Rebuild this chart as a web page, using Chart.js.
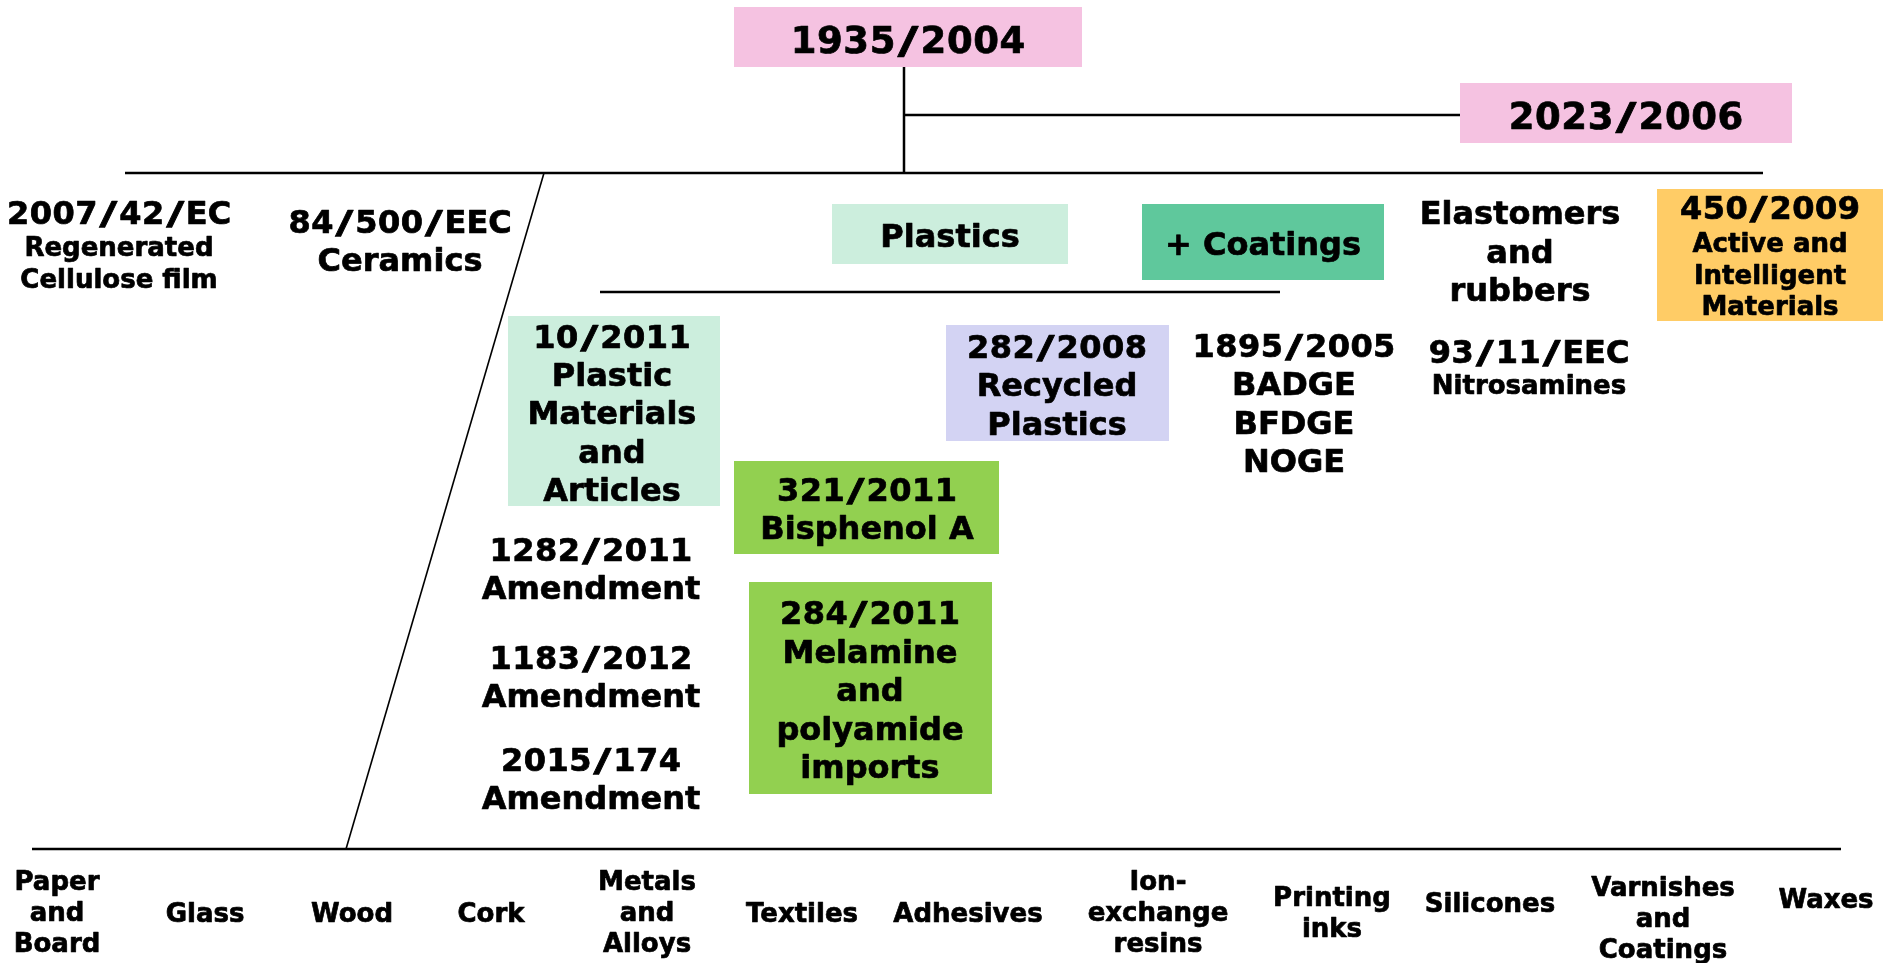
<!DOCTYPE html>
<html><head><meta charset="utf-8">
<script src="https://cdn.jsdelivr.net/npm/chart.js@4/dist/chart.umd.min.js"></script>
<style>html,body{margin:0;padding:0;background:#fff;overflow:hidden}#wrap{width:1883px;height:963px;position:relative}</style>
</head><body><div id="wrap"><canvas id="c"></canvas></div>
<script>
// ---------------- data (texts) ----------------
const frameworkRegs = ['1935/2004', '2023/2006'];
const groupLabels = ['Plastics', '+ Coatings'];
const specificDirectives = [
  ['2007/42/EC', 'Regenerated', 'Cellulose film'],
  ['84/500/EEC', 'Ceramics'],
  ['Elastomers', 'and', 'rubbers'],
  ['93/11/EEC', 'Nitrosamines'],
  ['450/2009', 'Active and', 'Intelligent', 'Materials']
];
const plasticsRegs = [
  ['10/2011', 'Plastic', 'Materials', 'and', 'Articles'],
  ['282/2008', 'Recycled', 'Plastics'],
  ['1895/2005', 'BADGE', 'BFDGE', 'NOGE'],
  ['321/2011', 'Bisphenol A'],
  ['1282/2011', 'Amendment'],
  ['1183/2012', 'Amendment'],
  ['2015/174', 'Amendment'],
  ['284/2011', 'Melamine', 'and', 'polyamide', 'imports']
];
const materialCategories = [
  ['Paper', 'and', 'Board'], ['Glass'], ['Wood'], ['Cork'], ['Metals', 'and', 'Alloys'],
  ['Textiles'], ['Adhesives'], ['Ion-', 'exchange', 'resins'], ['Printing', 'inks'],
  ['Silicones'], ['Varnishes', 'and', 'Coatings'], ['Waxes']
];

// ---------------- layout (positions / styles) ----------------
const C = {pink:'#F5C2E1', mint:'#CCEEDD', teal:'#5FC89C', orange:'#FFCC66', lav:'#D3D3F3', green:'#92D050'};
const blocks = [
  {lines:[frameworkRegs[0]], cx:908, ys:[39], fs:[37], box:[734,7,1082,67], fill:C.pink},
  {lines:[frameworkRegs[1]], cx:1626, ys:[115], fs:[37], box:[1460,83,1792,143], fill:C.pink},
  {lines:[groupLabels[0]], cx:950, ys:[235], fs:[32], box:[832,204,1068,264], fill:C.mint},
  {lines:[groupLabels[1]], cx:1263, ys:[243], fs:[32], box:[1142,204,1384,280], fill:C.teal},
  {lines:specificDirectives[0], cx:119, ys:[212,247,279], fs:[32,26,26]},
  {lines:specificDirectives[1], cx:400, ys:[221,259], fs:[32,32]},
  {lines:specificDirectives[2], cx:1520, ys:[212,251,289], fs:[32,32,32]},
  {lines:specificDirectives[3], cx:1529, ys:[351,385], fs:[32,26]},
  {lines:specificDirectives[4], cx:1770, ys:[207,243,275,306], fs:[32,26,26,26], box:[1657,189,1883,321], fill:C.orange},
  {lines:plasticsRegs[0], cx:612, ys:[336,374,412,451,489], fs:[32,32,32,32,32], box:[508,316,720,506], fill:C.mint},
  {lines:plasticsRegs[1], cx:1057, ys:[346,384,423], fs:[32,32,32], box:[946,325,1169,441], fill:C.lav},
  {lines:plasticsRegs[2], cx:1294, ys:[345,383,422,460], fs:[32,32,32,32]},
  {lines:plasticsRegs[3], cx:867, ys:[489,527], fs:[32,32], box:[734,461,999,554], fill:C.green},
  {lines:plasticsRegs[4], cx:591, ys:[549,587], fs:[32,32]},
  {lines:plasticsRegs[5], cx:591, ys:[657,695], fs:[32,32]},
  {lines:plasticsRegs[6], cx:591, ys:[759,797], fs:[32,32]},
  {lines:plasticsRegs[7], cx:870, ys:[612,651,689,728,766], fs:[32,32,32,32,32], box:[749,582,992,794], fill:C.green}
];
const matPos = [
  {cx:57, ys:[881,912,943]}, {cx:205, ys:[913]}, {cx:352, ys:[913]}, {cx:491, ys:[913]},
  {cx:647, ys:[881,912,943]}, {cx:802, ys:[913]}, {cx:968, ys:[913]}, {cx:1158, ys:[881,912,943]},
  {cx:1332, ys:[897,928]}, {cx:1490, ys:[903]}, {cx:1663, ys:[887,918,949]}, {cx:1826, ys:[899]}
];
materialCategories.forEach((m, i) => blocks.push({lines:m, cx:matPos[i].cx, ys:matPos[i].ys, fs:m.map(() => 26)}));

const connectors = [
  {pts:[[904,67],[904,173]], w:2.5},
  {pts:[[904,115],[1460,115]], w:2.5},
  {pts:[[125,173],[1763,173]], w:2.5},
  {pts:[[544,173],[346,849]], w:1.6},
  {pts:[[600,292],[1280,292]], w:2.5},
  {pts:[[32,849],[1841,849]], w:2.5}
];

const FONT = '"DejaVu Sans", Verdana, sans-serif';

function ink(ctx, t, x, y) {
  ctx.fillText(t, x, y);
  ctx.strokeText(t, x, y);
}

// Verdana-like spacing: wider slash and digits
function drawLabel(ctx, text, cx, capMid, fs) {
  ctx.font = 'bold ' + fs + 'px ' + FONT;
  const base = capMid + 0.365 * fs;
  if (!/[0-9\/]/.test(text)) {
    ctx.textAlign = 'center';
    ink(ctx, text, cx, base);
    return;
  }
  const slashExtra = 0.30 * fs, digitExtra = 0.015 * fs, slashScale = 1.55;
  const chars = [...text];
  const adv = chars.map(ch => ctx.measureText(ch).width + (ch === '/' ? slashExtra : (/[0-9]/.test(ch) ? digitExtra : 0)));
  const total = adv.reduce((a, b) => a + b, 0);
  let x = cx - total / 2;
  ctx.textAlign = 'center';
  chars.forEach((ch, i) => {
    if (ch === '/') {
      ctx.save();
      ctx.translate(x + adv[i] / 2, base);
      ctx.scale(slashScale, 1);
      ink(ctx, ch, 0, 0);
      ctx.restore();
    } else {
      ink(ctx, ch, x + adv[i] / 2, base);
    }
    x += adv[i];
  });
}

const diagramPlugin = {
  id: 'diagram',
  beforeDatasetsDraw(chart) {
    const {ctx, scales:{x, y}} = chart;
    ctx.save();
    blocks.forEach(b => {
      if (!b.box) return;
      const x0 = x.getPixelForValue(b.box[0]), x1 = x.getPixelForValue(b.box[2]);
      const y0 = y.getPixelForValue(b.box[1]), y1 = y.getPixelForValue(b.box[3]);
      ctx.fillStyle = b.fill;
      ctx.fillRect(x0, y0, x1 - x0, y1 - y0);
    });
    ctx.restore();
  },
  afterDatasetsDraw(chart) {
    const {ctx, scales:{x, y}} = chart;
    ctx.save();
    ctx.fillStyle = '#000';
    ctx.strokeStyle = '#000';
    ctx.lineWidth = 0.7;
    ctx.lineJoin = 'round';
    ctx.textBaseline = 'alphabetic';
    blocks.forEach(b => {
      b.lines.forEach((t, i) => {
        drawLabel(ctx, t, x.getPixelForValue(b.cx), y.getPixelForValue(b.ys[i]), b.fs[i]);
      });
    });
    ctx.restore();
  }
};

new Chart(document.getElementById('c'), {
  type: 'scatter',
  data: {
    datasets: connectors.map(c => ({
      data: c.pts.map(p => ({x:p[0], y:p[1]})),
      showLine: true, borderColor: '#000', borderWidth: c.w,
      pointRadius: 0, fill: false, tension: 0, borderCapStyle: 'butt'
    }))
  },
  options: {
    responsive: true, maintainAspectRatio: false, animation: false,
    layout: {padding: 0},
    plugins: {legend: {display: false}, tooltip: {enabled: false}},
    events: [],
    scales: {
      x: {type: 'linear', min: 0, max: 1883, display: false},
      y: {type: 'linear', min: 0, max: 963, reverse: true, display: false}
    }
  },
  plugins: [diagramPlugin]
});
</script>
</body></html>
